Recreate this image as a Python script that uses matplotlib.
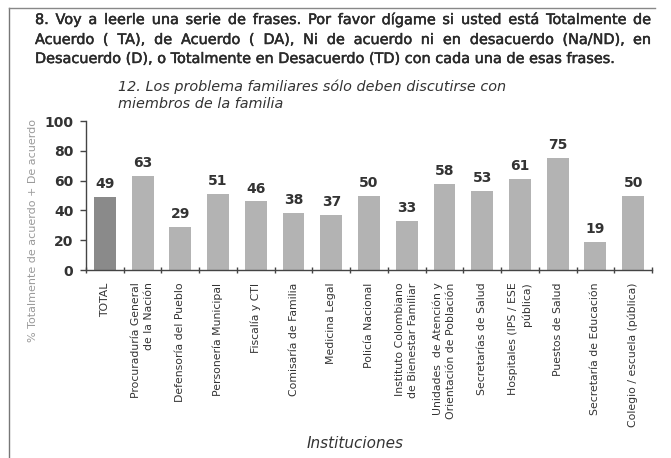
import matplotlib.pyplot as plt
import matplotlib.patheffects as pe
import numpy as np
from matplotlib.lines import Line2D

# datos
instituciones = ["TOTAL", "Procuraduría General\nde la Nación", "Defensoría del Pueblo",
                 "Personería Municipal", "Fiscalía y CTI", "Comisaría de Familia",
                 "Medicina Legal", "Policía Nacional",
                 "Instituto Colombiano\nde Bienestar Familiar",
                 "Unidades  de Atención y\nOrientación de Población",
                 "Secretarías de Salud", "Hospitales (IPS / ESE\npública)",
                 "Puestos de Salud", "Secretaría de Educación",
                 "Colegio / escuela (pública)"]
valores = [49, 63, 29, 51, 46, 38, 37, 50, 33, 58, 53, 61, 75, 19, 50]
yticks = [0, 20, 40, 60, 80, 100]

pregunta = ["8. Voy a leerle una serie de frases. Por favor dígame si usted está Totalmente de",
            "Acuerdo ( TA), de Acuerdo ( DA), Ni de acuerdo ni en desacuerdo (Na/ND), en",
            "Desacuerdo (D), o Totalmente en Desacuerdo (TD) con cada una de esas frases."]
subtitulo = "12. Los problema familiares sólo deben discutirse con\nmiembros de la familia"

FONT = "DejaVu Sans"
TXT = "#333333"
plt.rcParams['font.family'] = FONT

W, H = 671, 458
fig = plt.figure(figsize=(W / 100, H / 100), dpi=100)
ax = fig.add_axes([86 / W, 1 - 270 / H, (652 - 86) / W, (270 - 121) / H])

x = np.arange(len(valores))
colores = ['#8a8a8a'] + ['#b3b3b3'] * (len(valores) - 1)
ax.bar(x, valores, width=0.58, color=colores)
for xi, v in zip(x, valores):
    ax.text(xi, v + 4, str(v), ha='center', va='bottom', fontsize=10,
            fontweight='bold', color=TXT)

ax.set_xlim(-0.5, len(valores) - 0.5)
ax.set_ylim(0, 100)
ax.set_yticks(yticks)
ax.set_yticklabels([str(t) for t in yticks], fontsize=10, fontweight='bold', color=TXT)
ax.tick_params(axis='y', length=4, width=1, color='#444444', pad=5)

ax.set_xticks(x)
ax.set_xticklabels(instituciones, rotation=90, fontsize=7.8, color=TXT,
                   ha='center', va='top', multialignment='right', linespacing=1.4)
ax.set_xticks(np.arange(-0.5, len(valores)), minor=True)
ax.tick_params(axis='x', which='major', length=0, pad=9)
ax.tick_params(axis='x', which='minor', length=4, width=1, color='#444444', direction='inout')

for s in ['top', 'right']:
    ax.spines[s].set_visible(False)
for s in ['left', 'bottom']:
    ax.spines[s].set_color('#444444')
    ax.spines[s].set_linewidth(1)

fig.text(33 / W, 1 - 231 / H, "% Totalmente de acuerdo + De acuerdo", rotation=90,
         ha='center', va='center', fontsize=8, color='#9a9a9a')
fig.text(355 / W, 1 - 443 / H, "Instituciones", ha='center', va='center',
         fontsize=11, style='italic', color=TXT)
fig.text(118 / W, 1 - 95 / H, subtitulo, ha='left', va='center', fontsize=10.4,
         style='italic', color=TXT, linespacing=1.3)

# texto justificado de la pregunta
renderer = fig.canvas.get_renderer()
x0, x1 = 35, 651
ys = [20, 40, 59]
grueso = [pe.withStroke(linewidth=0.35, foreground='#2a2a2a')]
for i, (linea, yl) in enumerate(zip(pregunta, ys)):
    kw = dict(fontsize=10.4, color='#2a2a2a', va='center', ha='left', path_effects=grueso)
    if i == len(pregunta) - 1:
        fig.text(x0 / W, 1 - yl / H, linea, **kw)
        continue
    palabras = linea.split(' ')
    objs = [fig.text(0, 1 - yl / H, p, **kw) for p in palabras]
    anchos = [o.get_window_extent(renderer).width for o in objs]
    hueco = (x1 - x0 - sum(anchos)) / (len(palabras) - 1)
    pos = x0
    for o, a in zip(objs, anchos):
        o.set_x(pos / W)
        pos += a + hueco

# marco
fig.add_artist(Line2D([9 / W, 9 / W], [1 - 8 / H, 0], color='#777777', lw=1))
fig.add_artist(Line2D([9 / W, 655 / W], [1 - 8 / H, 1 - 8 / H], color='#888888', lw=1))

fig.savefig('out.png', dpi=100)
